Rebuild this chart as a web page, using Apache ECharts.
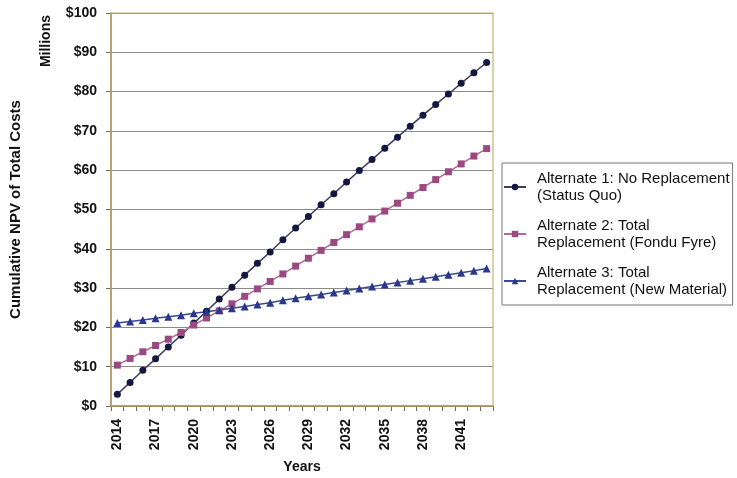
<!DOCTYPE html>
<html>
<head>
<meta charset="utf-8">
<script src="https://cdn.jsdelivr.net/npm/echarts@6/dist/echarts.min.js"></script>
<style>
  html, body { margin: 0; padding: 0; background: #fff; }
  #chart { width: 737px; height: 478px; }
</style>
</head>
<body>
<div id="chart"></div>
<script>
const years = []
for (let y = 2014; y <= 2043; y++) years.push(String(y))

const alt1 = [3.0, 6.0, 9.1, 12.0, 15.0, 18.0, 21.1, 24.1, 27.2, 30.2,
  33.3, 36.3, 39.2, 42.3, 45.3, 48.2, 51.2, 54.0, 57.0, 59.9,
  62.7, 65.6, 68.4, 71.2, 74.0, 76.7, 79.4, 82.1, 84.8, 87.4]
const alt2 = [10.4, 12.1, 13.8, 15.4, 17.0, 18.7, 20.6, 22.4, 24.2, 26.0,
  27.9, 29.8, 31.7, 33.6, 35.6, 37.6, 39.6, 41.6, 43.6, 45.6,
  47.6, 49.6, 51.6, 53.6, 55.6, 57.6, 59.6, 61.6, 63.6, 65.5]
const alt3 = [21.1, 21.5, 21.9, 22.3, 22.7, 23.1, 23.6, 24.0, 24.4, 24.9,
  25.3, 25.8, 26.3, 26.9, 27.4, 27.9, 28.4, 28.9, 29.4, 29.9,
  30.4, 30.9, 31.4, 31.9, 32.4, 32.9, 33.4, 33.9, 34.4, 35.0]

const seriesNames = [
  'Alternate 1: No Replacement\n(Status Quo)',
  'Alternate 2: Total\nReplacement (Fondu Fyre)',
  'Alternate 3: Total\nReplacement (New Material)'
]

const font = 'Liberation Sans, Arial, sans-serif'
const chart = echarts.init(document.getElementById('chart'))

const lineSeries = (name, data, lineColor, markColor, symbol, size) => ({
  name,
  type: 'line',
  data,
  symbol,
  symbolSize: size,
  showSymbol: true,
  lineStyle: { color: lineColor, width: 1.5 },
  itemStyle: { color: markColor, borderWidth: 0 },
  emphasis: { disabled: true },
  animation: false
})

chart.setOption({
  backgroundColor: '#fff',
  textStyle: { fontFamily: font },
  grid: { left: 111, right: 244, top: 13, bottom: 72, containLabel: false, outerBoundsMode: 'none' },
  legend: {
    orient: 'vertical',
    left: 502,
    top: 163,
    padding: [7, 3, 7, 1],
    borderColor: '#777',
    borderWidth: 1,
    itemGap: 13,
    itemWidth: 22,
    itemHeight: 8,
    textStyle: { fontFamily: font, fontSize: 15, color: '#111', lineHeight: 17, padding: [0, 0, 0, 6] },
    data: seriesNames
  },
  graphic: [
    {
      type: 'text',
      left: 39,
      top: 15,
      rotation: Math.PI / 2,
      style: { text: 'Millions', font: 'bold 14px ' + font, fill: '#111' }
    }
  ],
  xAxis: {
    type: 'category',
    data: years,
    boundaryGap: true,
    name: 'Years',
    nameLocation: 'middle',
    nameGap: 54,
    nameTextStyle: { fontWeight: 'bold', fontSize: 14, color: '#111' },
    axisLine: { lineStyle: { color: '#7a6a55', width: 1.5 } },
    axisTick: { show: true, interval: 0, length: 5, lineStyle: { color: '#7a6a55' } },
    axisLabel: {
      interval: 2,
      rotate: 90,
      fontWeight: 'bold',
      fontSize: 14,
      color: '#111',
      margin: 13
    },
    splitLine: { show: false }
  },
  yAxis: {
    type: 'value',
    min: 0,
    max: 100,
    interval: 10,
    name: 'Cumulative NPV of Total Costs',
    nameLocation: 'middle',
    nameGap: 88,
    nameTextStyle: { fontWeight: 'bold', fontSize: 15, color: '#111' },
    axisLine: { show: true, lineStyle: { color: '#7a6a55', width: 1.5 } },
    axisTick: { show: true, length: 5, inside: false, lineStyle: { color: '#7a6a55' } },
    axisLabel: {
      fontWeight: 'bold',
      fontSize: 14,
      color: '#111',
      margin: 14,
      formatter: v => '$' + v
    },
    splitLine: { lineStyle: { color: '#8a8a8a', width: 1 } }
  },
  series: [
    lineSeries(seriesNames[0], alt1, '#3a3f5c', '#141840', 'circle', 7),
    lineSeries(seriesNames[1], alt2, '#b06a98', '#9a4a80', 'rect', 7),
    lineSeries(seriesNames[2], alt3, '#3a4898', '#2a378a', 'triangle', 8),
    {
      type: 'line',
      data: [],
      silent: true,
      markArea: {
        silent: true,
        itemStyle: { color: 'rgba(0,0,0,0)', borderColor: '#c9b46a', borderWidth: 1.2 },
        data: [[{ xAxis: 'min', yAxis: 100 }, { xAxis: 'max', yAxis: 0 }]]
      }
    }
  ]
})
</script>
</body>
</html>
